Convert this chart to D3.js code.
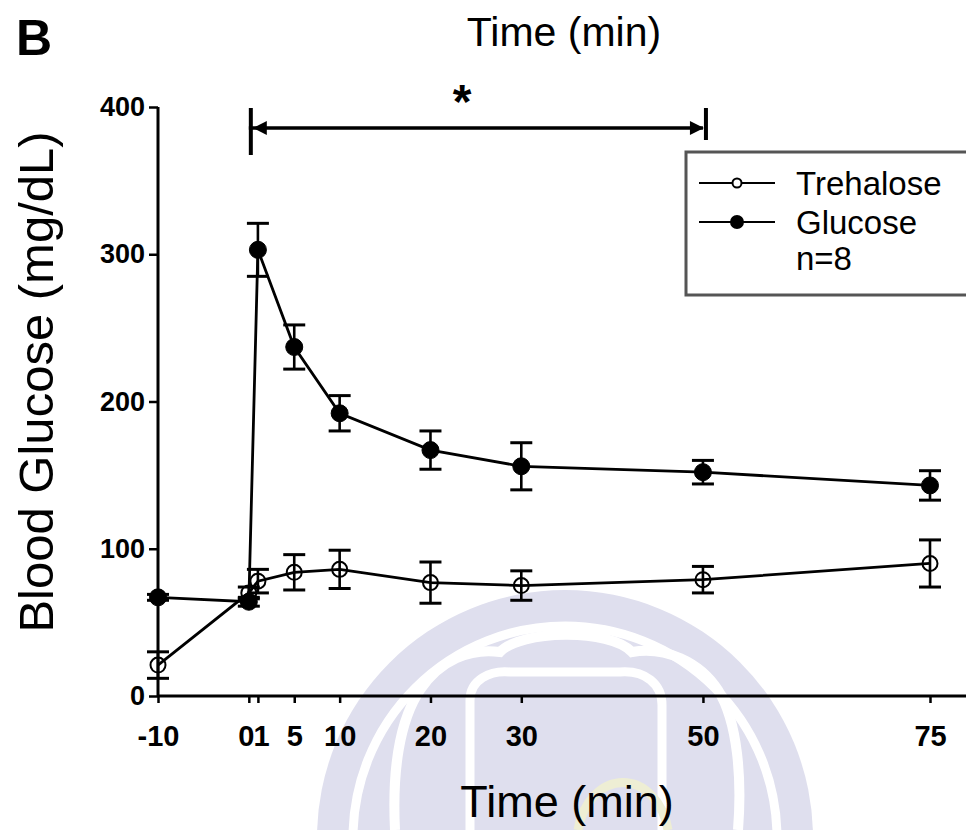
<!DOCTYPE html>
<html>
<head>
<meta charset="utf-8">
<script src="https://cdn.jsdelivr.net/npm/d3@7"></script>
<style>
  html, body { margin: 0; padding: 0; background: #fff; }
  svg { display: block; }
  text { font-family: "Liberation Sans", Arial, Helvetica, sans-serif; fill: #000; }
</style>
</head>
<body>
<svg id="chart" width="966" height="830"></svg>
<script>
// Blood glucose after oral load, mean ± SEM (mg/dL)
const times        = [-10, 0, 1, 5, 10, 20, 30, 50, 75];
const xTickValues  = [-10, 0, 1, 5, 10, 20, 30, 50, 75];
const yTickValues  = [0, 100, 200, 300, 400];

const trehaloseMean = [21, 70, 78, 84, 86, 77, 75, 79, 90];
const trehaloseErr  = [9, 4, 8, 12, 13, 14, 10, 9, 16];
const glucoseMean   = [67, 64, 303, 237, 192, 167, 156, 152, 143];
const glucoseErr    = [2, 3, 18, 15, 12, 13, 16, 8, 10];

const seriesNames = ["Trehalose", "Glucose"];
const legendNote  = "n=8";
const sigRange    = [0, 50];   // interval marked as significant

const W = 966, H = 830;
const svg = d3.select("#chart");

const x = d3.scaleLinear().domain([-10, 75]).range([158, 930]);
const y = d3.scaleLinear().domain([0, 400]).range([696, 107]);

// ---- faint background seal ----
const seal = svg.append("g").attr("class", "seal");
seal.append("circle").attr("cx", 565).attr("cy", 838).attr("r", 248).attr("fill", "#dfdfee");
seal.append("circle").attr("cx", 565).attr("cy", 838).attr("r", 212)
  .attr("fill", "none").attr("stroke", "#ffffff").attr("stroke-width", 9);
seal.append("path")
  .attr("d", "M395,830 C392,770 400,720 420,690 C440,660 470,648 500,652 C520,630 610,628 632,652 C665,646 700,662 718,690 C738,722 742,780 738,830")
  .attr("fill", "none").attr("stroke", "#ffffff").attr("stroke-width", 10);
seal.append("path")
  .attr("d", "M470,830 L470,700 C470,680 490,670 510,672 L620,672 C645,670 662,684 662,705 L662,830")
  .attr("fill", "none").attr("stroke", "#ffffff").attr("stroke-width", 9);
seal.append("path")
  .attr("d", "M578,830 A46,60 0 0 1 668,830")
  .attr("fill", "none").attr("stroke", "#eeeed4").attr("stroke-width", 9);

// ---- axes ----
const xAxis = d3.axisBottom(x).tickValues(xTickValues).tickSize(7).tickPadding(22).tickFormat(d => d);
const gx = svg.append("g").attr("transform", `translate(0,${y(0)})`).call(xAxis);
gx.select(".domain").remove();
gx.append("line").attr("x1", x.range()[0]).attr("x2", W).attr("y1", 0).attr("y2", 0)
  .attr("stroke", "#000").attr("stroke-width", 3);
gx.selectAll(".tick line").attr("stroke", "#000").attr("stroke-width", 2.5);
gx.selectAll(".tick text").attr("font-size", 29).attr("font-weight", "bold")
  .attr("font-family", "'Liberation Sans', Arial, sans-serif").attr("fill", "#000");
// the 0 and 1 labels sit side by side as "01"
gx.selectAll(".tick text").filter(d => d === 0).attr("text-anchor", "end").attr("dx", 5);
gx.selectAll(".tick text").filter(d => d === 1).attr("text-anchor", "start").attr("dx", -5)
  .attr("transform", "scale(1,1)");

const yAxis = d3.axisLeft(y).tickValues(yTickValues).tickSize(9).tickPadding(4);
const gy = svg.append("g").attr("transform", `translate(${x(-10)},0)`).call(yAxis);
gy.select(".domain").attr("stroke", "#000").attr("stroke-width", 3).attr("d", `M0,${y(0)}V${y(400)}`);
gy.selectAll(".tick line").attr("stroke", "#000").attr("stroke-width", 2.5);
gy.selectAll(".tick text").attr("font-size", 27).attr("font-weight", "bold")
  .attr("font-family", "'Liberation Sans', Arial, sans-serif").attr("fill", "#000");

// axis titles
svg.append("text").attr("x", 567).attr("y", 817).attr("text-anchor", "middle")
  .attr("font-size", 45).text("Time (min)");
svg.append("text").attr("transform", `translate(53,382) rotate(-90)`)
  .attr("text-anchor", "middle").attr("font-size", 49).text("Blood Glucose (mg/dL)");
svg.append("text").attr("x", 564).attr("y", 46).attr("text-anchor", "middle")
  .attr("font-size", 41).text("Time (min)");
svg.append("text").attr("x", 16).attr("y", 55).attr("font-size", 50).attr("font-weight", "bold").text("B");

// ---- significance bracket ----
const sig = svg.append("g").attr("stroke", "#000");
const by = 128;
sig.append("line").attr("x1", x(sigRange[0])).attr("x2", x(sigRange[1])).attr("y1", by).attr("y2", by).attr("stroke-width", 3.5);
sig.append("line").attr("x1", x(sigRange[0]) + 2).attr("x2", x(sigRange[0]) + 2).attr("y1", 108).attr("y2", 155).attr("stroke-width", 4);
sig.append("line").attr("x1", x(sigRange[1]) + 3).attr("x2", x(sigRange[1]) + 3).attr("y1", 108).attr("y2", 140).attr("stroke-width", 4);
sig.append("path").attr("stroke", "none").attr("fill", "#000")
  .attr("d", `M${x(sigRange[0]) + 4},${by} l14,-7 v14 z`);
sig.append("path").attr("stroke", "none").attr("fill", "#000")
  .attr("d", `M${x(sigRange[1]) + 1},${by} l-14,-7 v14 z`);
svg.append("text").attr("x", 462).attr("y", 118).attr("text-anchor", "middle")
  .attr("font-size", 48).attr("font-weight", "bold").text("*");

// ---- data ----
function rows(means, errs) {
  return times.map((t, i) => ({ t, m: means[i], e: errs[i] }));
}
const treh = rows(trehaloseMean, trehaloseErr);
const gluc = rows(glucoseMean, glucoseErr);

const line = d3.line().x(d => x(d.t)).y(d => y(d.m));

function drawSeries(data, filled) {
  const g = svg.append("g");
  g.append("path").datum(data).attr("d", line)
    .attr("fill", "none").attr("stroke", "#000").attr("stroke-width", 2.8);
  const eb = g.selectAll(".eb").data(data).join("g").attr("stroke", "#000");
  eb.append("line").attr("x1", d => x(d.t)).attr("x2", d => x(d.t))
    .attr("y1", d => y(d.m - d.e)).attr("y2", d => y(d.m + d.e)).attr("stroke-width", 2.6);
  eb.append("line").attr("x1", d => x(d.t) - 11).attr("x2", d => x(d.t) + 11)
    .attr("y1", d => y(d.m + d.e)).attr("y2", d => y(d.m + d.e)).attr("stroke-width", 3);
  eb.append("line").attr("x1", d => x(d.t) - 11).attr("x2", d => x(d.t) + 11)
    .attr("y1", d => y(d.m - d.e)).attr("y2", d => y(d.m - d.e)).attr("stroke-width", 3);
  g.selectAll(".pt").data(data).join("circle")
    .attr("cx", d => x(d.t)).attr("cy", d => y(d.m)).attr("r", filled ? 8.5 : 7.5)
    .attr("fill", filled ? "#000" : "none")
    .attr("stroke", "#000").attr("stroke-width", filled ? 1 : 2);
}
drawSeries(treh, false);
drawSeries(gluc, true);

// ---- legend ----
const lg = svg.append("g");
lg.append("rect").attr("x", 686).attr("y", 152).attr("width", 300).attr("height", 143)
  .attr("fill", "#fff").attr("stroke", "#555").attr("stroke-width", 3);
const legendRows = [{ name: seriesNames[0], filled: false, y: 183 }, { name: seriesNames[1], filled: true, y: 222 }];
legendRows.forEach(r => {
  lg.append("line").attr("x1", 699).attr("x2", 775).attr("y1", r.y).attr("y2", r.y)
    .attr("stroke", "#000").attr("stroke-width", 2);
  lg.append("circle").attr("cx", 737).attr("cy", r.y).attr("r", r.filled ? 6 : 4.5)
    .attr("fill", r.filled ? "#000" : "#fff").attr("stroke", "#000").attr("stroke-width", 2);
  lg.append("text").attr("x", 796).attr("y", r.y + 12).attr("font-size", 33).text(r.name);
});
lg.append("text").attr("x", 796).attr("y", 270).attr("font-size", 33).text(legendNote);
</script>
</body>
</html>
